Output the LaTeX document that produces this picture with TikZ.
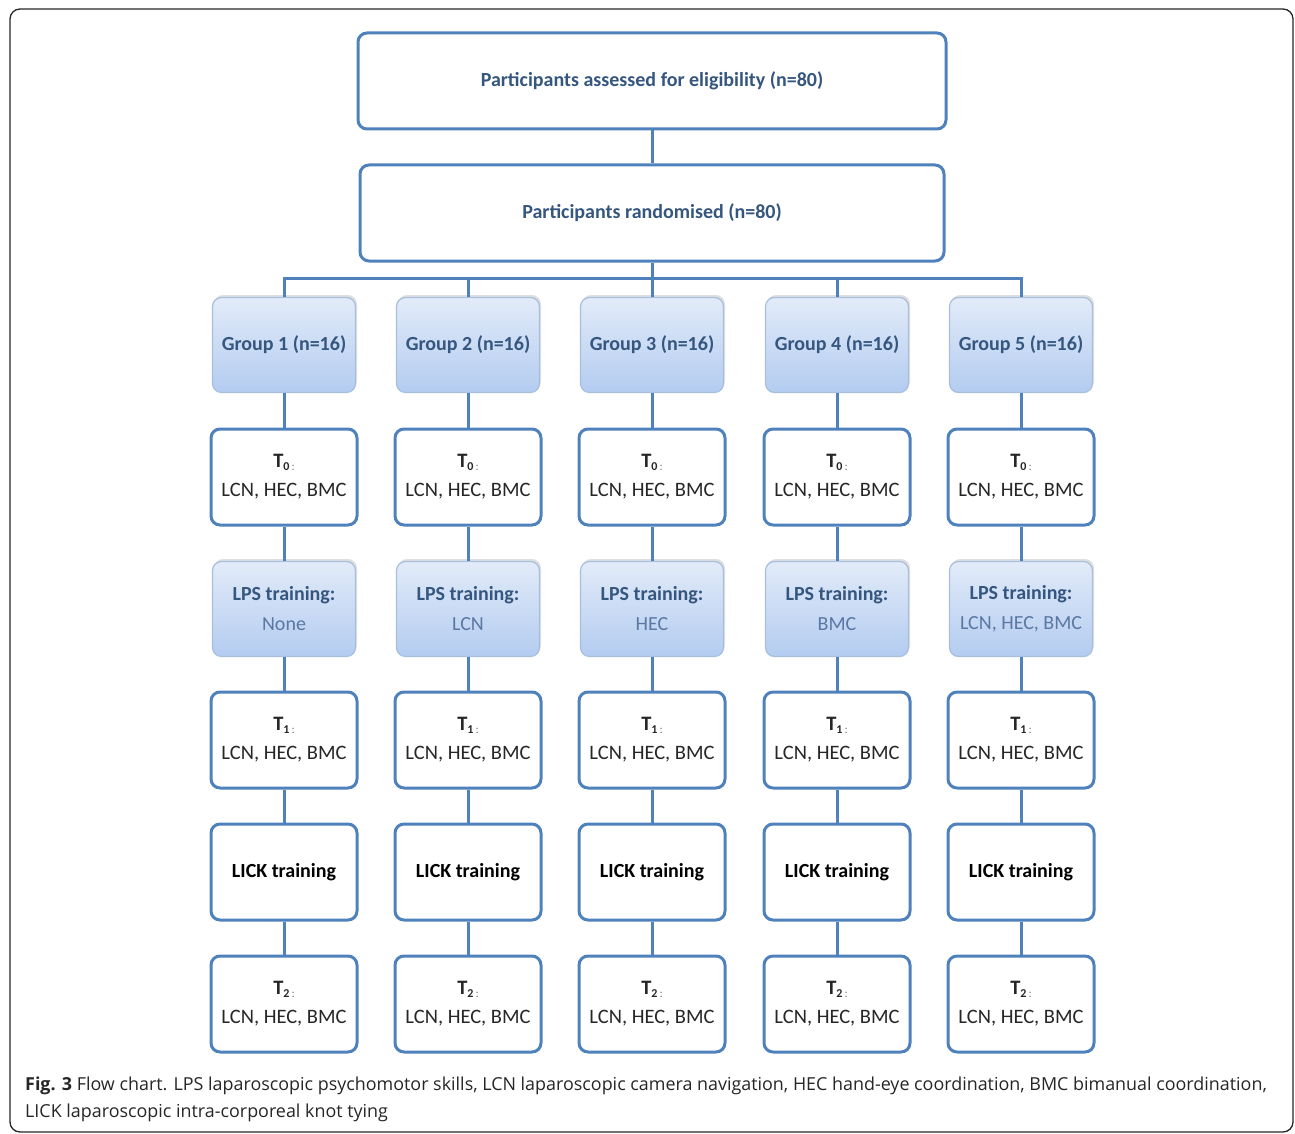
\documentclass[tikz,border=0pt]{standalone}
\usepackage{fontspec}
\setmainfont{Carlito}
\newfontfamily\capfont{Open Sans}
\usetikzlibrary{shadows}
\definecolor{lineblue}{HTML}{4F81BD}
\definecolor{txtblue}{HTML}{35567F}
\definecolor{txtlight}{HTML}{5A78A3}
\definecolor{gtop}{HTML}{E2EBF9}
\definecolor{gbot}{HTML}{B3CCF0}
\definecolor{gborder}{HTML}{A8BEDD}
\definecolor{txtdark}{HTML}{262626}
\newcommand{\Tlab}[1]{{\bfseries T}{\fontsize{12}{12}\selectfont\raisebox{-2.5pt}{\textbf{#1}\,\color{gray}:}}}
\begin{document}
\begin{tikzpicture}[x=1pt,y=-1pt,
  conn/.style={draw=lineblue,line width=3pt},
  bigbox/.style={draw=lineblue,line width=3pt,fill=white,rounded corners=9pt,
    minimum width=#1,minimum height=96pt,font=\fontsize{20}{24}\selectfont\bfseries,text=txtblue},
  whitebox/.style={draw=lineblue,line width=3pt,fill=white,rounded corners=9pt,
    minimum width=146pt,minimum height=96pt,align=center,
    font=\fontsize{20.5}{29}\selectfont,text=txtdark,inner sep=0pt},
  bluebox/.style={draw=gborder,line width=1.2pt,top color=gtop,bottom color=gbot,
    rounded corners=9pt,minimum width=143pt,minimum height=95pt,align=center,
    font=\fontsize{20}{30}\selectfont,text=txtblue,inner sep=0pt,
    drop shadow={opacity=0.25,shadow xshift=1.5pt,shadow yshift=2.5pt}},
  framebox/.style={draw=black!85,line width=1.3pt,rounded corners=10pt}
]
\useasboundingbox (0,0) rectangle (1295,1134);
\draw[framebox] (10,9) rectangle (1293,1132);

\node[bigbox=588pt] (top) at (652,81) {Participants assessed for eligibility (n=80)};
\node[bigbox=584pt] (rand) at (652,213) {Participants randomised (n=80)};

\foreach \i/\cx/\tr in {1/284/None,2/468/LCN,3/652/HEC,4/837/BMC,5/1021/{LCN, HEC, BMC}} {
  \coordinate (b\i) at (\cx,278);
  \node[bluebox,font=\fontsize{20}{24}\selectfont\bfseries] (g\i) at (\cx,345) {Group \i\ (n=16)};
  \node[whitebox] (t0\i) at (\cx,477) {\Tlab{0}\\LCN, HEC, BMC};
  \node[bluebox] (l\i) at (\cx,609) {\textbf{LPS training:}\\{\color{txtlight}\tr}};
  \node[whitebox] (t1\i) at (\cx,740) {\Tlab{1}\\LCN, HEC, BMC};
  \node[whitebox,font=\fontsize{20}{24}\selectfont\bfseries,text=black] (k\i) at (\cx,872) {LICK training};
  \node[whitebox] (t2\i) at (\cx,1004) {\Tlab{2}\\LCN, HEC, BMC};
}

\draw[conn] (top.south) -- (rand.north);
\draw[conn] (rand.south) -- (b3);
\draw[conn,line cap=rect] (b1) -- (b5);
\foreach \i in {1,...,5} {
  \draw[conn] (b\i) -- (g\i.north);
  \draw[conn] (g\i.south) -- (t0\i.north);
  \draw[conn] (t0\i.south) -- (l\i.north);
  \draw[conn] (l\i.south) -- (t1\i.north);
  \draw[conn] (t1\i.south) -- (k\i.north);
  \draw[conn] (k\i.south) -- (t2\i.north);
}

\node[anchor=west,align=left,inner sep=0pt,font=\capfont\fontsize{17.9}{27}\selectfont,text=black!85] (cap) at (25,1099)
  {\textbf{Fig. 3} Flow chart. LPS laparoscopic psychomotor skills, LCN laparoscopic camera navigation, HEC hand-eye coordination, BMC bimanual coordination,\\
   LICK laparoscopic intra-corporeal knot tying};
\end{tikzpicture}
\end{document}
